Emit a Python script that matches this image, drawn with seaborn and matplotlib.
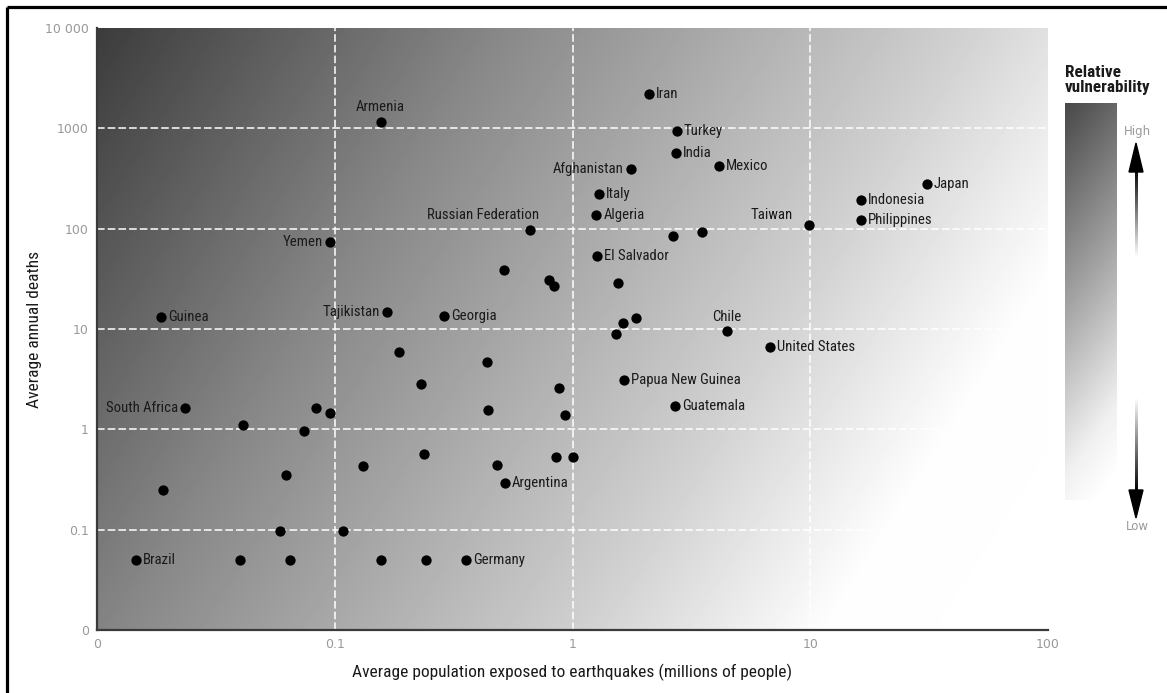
import matplotlib
matplotlib.use("Agg")
import matplotlib.pyplot as plt
import numpy as np
import pandas as pd
import seaborn as sns
from matplotlib.patches import Polygon

# average population exposed to earthquakes (millions) vs average annual deaths
population = [0.156, 2.10, 2.75, 2.73, 4.13, 1.76, 1.29, 1.26, 0.66, 2.65,
              3.5, 9.9, 16.3, 16.3, 31.0, 0.0955, 1.27, 0.515, 0.796, 0.835,
              1.55, 0.288, 0.166, 0.0186, 1.63, 1.85, 1.52, 4.47, 6.77, 0.186,
              0.436, 1.64, 0.231, 0.877, 0.0234, 0.083, 0.0955, 0.44, 2.70, 0.929,
              0.041, 0.0743, 0.131, 0.237, 0.48, 0.853, 1.0, 0.52, 0.019, 0.0624,
              0.0589, 0.108, 0.0146, 0.040, 0.065, 0.156, 0.242, 0.356]
deaths = [1155, 2200, 940, 567, 421, 393, 221, 137, 97, 84,
          92, 108, 193, 122, 278, 73.5, 53, 38.7, 30.7, 26.8,
          28.7, 13.5, 14.7, 13.2, 11.5, 12.8, 8.9, 9.5, 6.6, 5.9,
          4.68, 3.1, 2.82, 2.57, 1.63, 1.63, 1.45, 1.55, 1.70, 1.39,
          1.10, 0.96, 0.43, 0.57, 0.44, 0.53, 0.53, 0.29, 0.248, 0.35,
          0.097, 0.097, 0.0497, 0.05, 0.05, 0.05, 0.05, 0.05]
country = ["Armenia", "Iran", "Turkey", "India", "Mexico", "Afghanistan", "Italy", "Algeria",
           "Russian Federation", "", "", "Taiwan", "Indonesia", "Philippines", "Japan", "Yemen",
           "El Salvador", "", "", "", "", "Georgia", "Tajikistan", "Guinea", "", "", "",
           "Chile", "United States", "", "", "Papua New Guinea", "", "", "South Africa", "", "",
           "", "Guatemala", "", "", "", "", "", "", "", "", "Argentina", "", "", "", "",
           "Brazil", "", "", "", "", "Germany"]

x_ticks = [0.01, 0.1, 1, 10, 100]
x_tick_labels = ["0", "0.1", "1", "10", "100"]
y_ticks = [0.01, 0.1, 1, 10, 100, 1000, 10000]
y_tick_labels = ["0", "0.1", "1", "10", "100", "1000", "10 000"]

# where each name sits relative to its dot (pixels), default is to the right
label_place = {
    "Armenia": (0, 15, "center"),
    "Russian Federation": (10, 15, "right"),
    "Taiwan": (-16, 10, "right"),
    "Chile": (0, 14, "center"),
    "Afghanistan": (-7, 0, "right"),
    "Yemen": (-7, 0, "right"),
    "Tajikistan": (-7, 0, "right"),
    "South Africa": (-7, 0, "right"),
}

df = pd.DataFrame({"population": population, "deaths": deaths, "country": country})

sns.set_theme(style="white")
narrow = ["Roboto Condensed", "Liberation Sans Narrow", "Roboto", "DejaVu Sans"]
plt.rcParams["font.family"] = narrow

W, H = 1167, 693
fig = plt.figure(figsize=(W / 100, H / 100), dpi=100)
pos = [97 / W, 1 - 630 / H, (1048 - 97) / W, (630 - 28) / H]

# diagonal grey background, dark top-left to white bottom-right
bg = fig.add_axes(pos, zorder=0)
pw, ph = 951, 602
u = np.linspace(0, 1, pw)[None, :]
v = np.linspace(0, 1, ph)[:, None]
t = (u * pw ** 2 + v * ph ** 2) / (pw ** 2 + ph ** 2)
shade = np.interp(t, [0, 0.3, 0.65, 0.83, 1], [60, 135, 208, 253, 255]) / 255
bg.imshow(shade, cmap="gray", vmin=0, vmax=1, aspect="auto", extent=[0, 1, 0, 1])
bg.axis("off")

ax = fig.add_axes(pos, zorder=1)
ax.patch.set_alpha(0)
sns.scatterplot(data=df, x="population", y="deaths", color="black", s=55,
                linewidth=0, ax=ax, zorder=3, legend=False)
ax.set_xscale("log")
ax.set_yscale("log")
ax.set_xlim(0.01, 100)
ax.set_ylim(0.01, 10000)
ax.set_xticks(x_ticks, x_tick_labels)
ax.set_yticks(y_ticks, y_tick_labels)
ax.minorticks_off()
ax.tick_params(length=0, labelsize=9, labelcolor="#999999", pad=6)
for lab in ax.get_xticklabels() + ax.get_yticklabels():
    lab.set_family("DejaVu Sans")

for xv in x_ticks[1:-1]:
    ax.axvline(xv, color="white", lw=1.1, dashes=(5, 2), zorder=2)
for yv in y_ticks[1:-1]:
    ax.axhline(yv, color="white", lw=1.1, dashes=(5, 2), zorder=2)

for side in ["top", "right"]:
    ax.spines[side].set_visible(False)
for side in ["left", "bottom"]:
    ax.spines[side].set_color("#3a3a3a")
    ax.spines[side].set_linewidth(1.6)

ax.set_xlabel("Average population exposed to earthquakes (millions of people)",
              fontsize=12.5, color="#1a1a1a", labelpad=9)
ax.set_ylabel("Average annual deaths", fontsize=12.5, color="#1a1a1a", labelpad=2)

for _, row in df[df["country"] != ""].iterrows():
    dx, dy, ha = label_place.get(row["country"], (7, 0, "left"))
    ax.annotate(row["country"], (row["population"], row["deaths"]),
                xytext=(dx, dy), textcoords="offset pixels", ha=ha, va="center",
                fontsize=10.6, color="#1a1a1a", zorder=4)

# legend bar, arrows and frame drawn in pixel space
over = fig.add_axes([0, 0, 1, 1], zorder=2)
over.patch.set_alpha(0)

bw, bh = 52, 397
cu = np.linspace(0, 1, bw)[None, :]
cv = np.linspace(0, 1, bh)[:, None]
ct = 0.15 * cu + 0.85 * cv
bar = np.interp(ct, [0, 0.45, 0.8, 0.95], [72, 165, 240, 255]) / 255
over.imshow(bar, cmap="gray", vmin=0, vmax=1, aspect="auto", extent=[1065, 1117, 500, 103])

up = np.linspace(0, 1, 60)[:, None]
over.imshow(up, cmap="gray", vmin=0, vmax=1, aspect="auto", extent=[1134.5, 1137.5, 258, 168])
over.add_patch(Polygon([[1136, 143], [1129, 172], [1143, 172]], closed=True, color="black"))
down = np.linspace(1, 0, 60)[:, None]
over.imshow(down, cmap="gray", vmin=0, vmax=1, aspect="auto", extent=[1134.5, 1137.5, 492, 397])
over.add_patch(Polygon([[1136, 518], [1129, 490], [1143, 490]], closed=True, color="black"))

over.text(1065, 65, "Relative\nvulnerability", ha="left", va="top", fontsize=12.3,
          fontweight="bold", color="#1a1a1a", linespacing=1.0)
over.text(1137, 131, "High", ha="center", va="center", fontsize=8.5, color="#999999",
          family="DejaVu Sans")
over.text(1137, 527, "Low", ha="center", va="center", fontsize=8.5, color="#999999",
          family="DejaVu Sans")

over.plot([6.5, 6.5], [693, 6.5], color="black", lw=2.3, solid_capstyle="butt")
over.plot([6.5, 1167], [6.5, 6.5], color="black", lw=2.3, solid_capstyle="butt")

over.set_xlim(0, W)
over.set_ylim(H, 0)
over.axis("off")

fig.savefig("out.png", dpi=100)
